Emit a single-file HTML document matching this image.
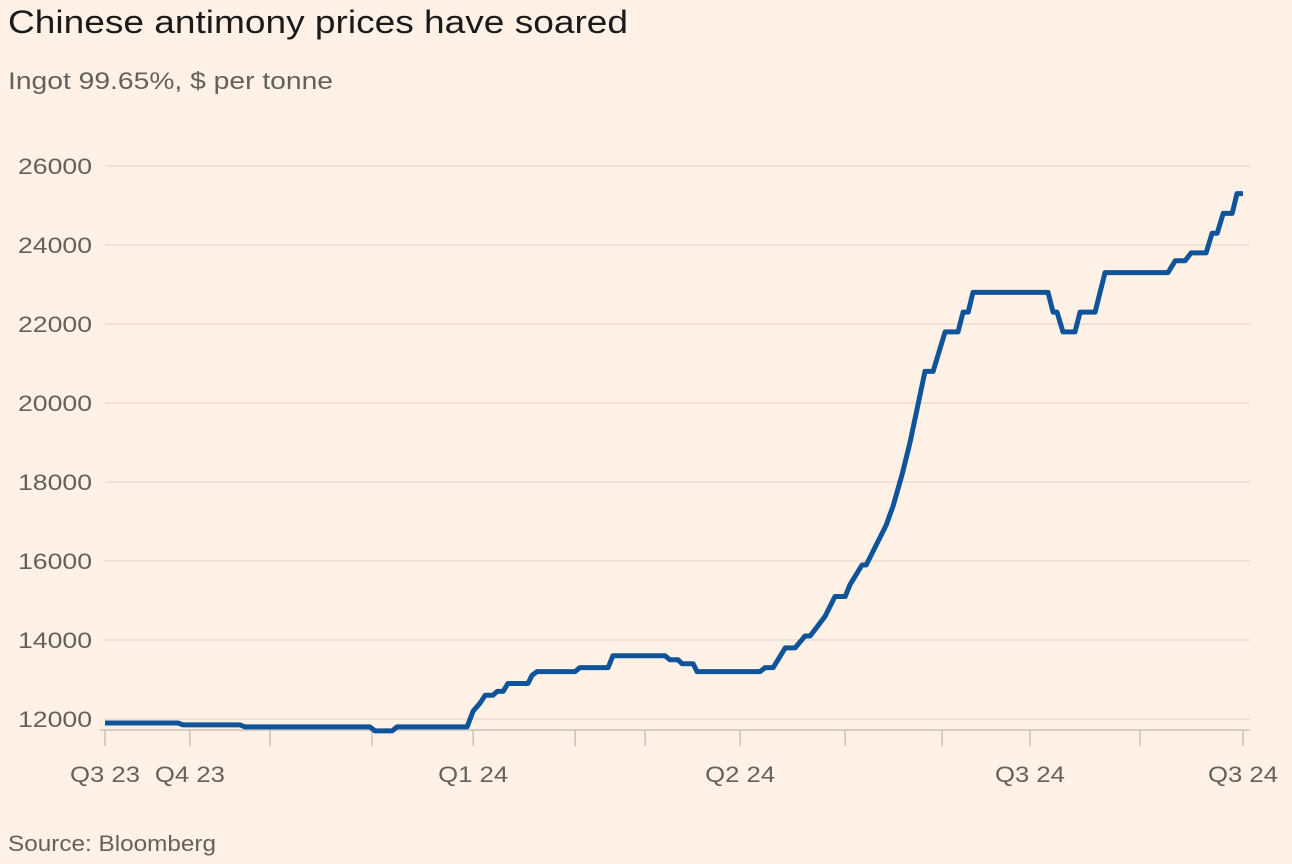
<!DOCTYPE html>
<html><head><meta charset="utf-8"><style>
body{margin:0;background:#fff1e5;font-family:"Liberation Sans",sans-serif;}
svg{display:block}
</style></head><body>
<svg id="chart" width="1292" height="864">
<text x="8" y="33" font-size="32" fill="#1a1a1a" textLength="620" lengthAdjust="spacingAndGlyphs">Chinese antimony prices have soared</text>
<text x="8" y="89" font-size="24" fill="#66605c" textLength="325" lengthAdjust="spacingAndGlyphs">Ingot 99.65%, $ per tonne</text>
<text x="8" y="851" font-size="22" fill="#66605c" textLength="208" lengthAdjust="spacingAndGlyphs">Source: Bloomberg</text>
<g id="grid"></g><g id="xaxis"></g><g id="series"></g>
</svg>
<script>
const yTicks=[12000,14000,16000,18000,20000,22000,24000,26000];
const xTickDays=[0,28.3,55,89,122.7,156.7,180,211.7,246.7,279,308.3,345,379.3];
const xLabelDays=[0,28.3,122.7,211.7,308.3,379.3];
const xLabels=["Q3 23","Q4 23","Q1 24","Q2 24","Q3 24","Q3 24"];
const days=[0,24.3,26,45,46.7,88.3,90,95.7,97.3,120.7,122.7,125,126.7,129.3,130.7,132.7,134.3,141,142.3,144,156.7,158.3,167.7,169.3,186.7,188.3,191,192.3,196,197.3,218.3,220,222.7,226.7,230,233.3,235,240,243.3,246.7,248.3,252.3,253.7,257,260.3,262.7,265.7,268.3,273.3,276,280,284.3,286,287.7,289.3,314.3,316,317.3,319.3,323.3,325,330,333.3,354.3,356.7,360,362,367,369,370.7,372.7,375.7,377.3,379.3];
const prices=[11900,11900,11850,11850,11800,11800,11700,11700,11800,11800,12200,12400,12600,12600,12700,12700,12900,12900,13100,13200,13200,13300,13300,13600,13600,13500,13500,13400,13400,13200,13200,13300,13300,13800,13800,14100,14100,14600,15100,15100,15400,15900,15900,16400,16900,17400,18200,19000,20800,20800,21800,21800,22300,22300,22800,22800,22300,22300,21800,21800,22300,22300,23300,23300,23600,23600,23800,23800,24300,24300,24800,24800,25300,25300];
const NS="http://www.w3.org/2000/svg";
const x=d=>105+(d-0)/379.3*(1243-105);
const y=v=>719-(v-12000)/14000*(719-166);
const grid=document.getElementById('grid'),xa=document.getElementById('xaxis'),ser=document.getElementById('series');
function mk(tag,attrs,parent){const e=document.createElementNS(NS,tag);for(const k in attrs)e.setAttribute(k,attrs[k]);parent.appendChild(e);return e;}
yTicks.forEach(v=>{
 const l=mk('line',{x1:105,x2:1250,y1:y(v),y2:y(v),stroke:'#e6d9ce','stroke-width':1.2},grid);
 
 
 const t=mk('text',{x:18,y:y(v)+8,'font-size':22,fill:'#66605c',textLength:74,lengthAdjust:'spacingAndGlyphs'},grid);
 t.textContent=v;
 
 
});
const base=mk('line',{x1:100,x2:1250,y1:730,y2:730,stroke:'#ccc1b7','stroke-width':1.5},xa);


xTickDays.forEach(d=>{
 const l=mk('line',{x1:x(d),x2:x(d),y1:730,y2:746,stroke:'#ccc1b7','stroke-width':1.5},xa);
 
 
});
xLabelDays.forEach((d,i)=>{
 const t=mk('text',{x:x(d),y:782,'font-size':22,fill:'#66605c','text-anchor':'middle',textLength:70,lengthAdjust:'spacingAndGlyphs'},xa);
 t.textContent=xLabels[i];
 
 
});
const p=mk('path',{d:days.map((d,i)=>(i?'L':'M')+x(d).toFixed(1)+','+y(prices[i]).toFixed(1)).join(''),fill:'none',stroke:'#0f5499','stroke-width':5,'stroke-linejoin':'round'},ser);


</script>
</body></html>
